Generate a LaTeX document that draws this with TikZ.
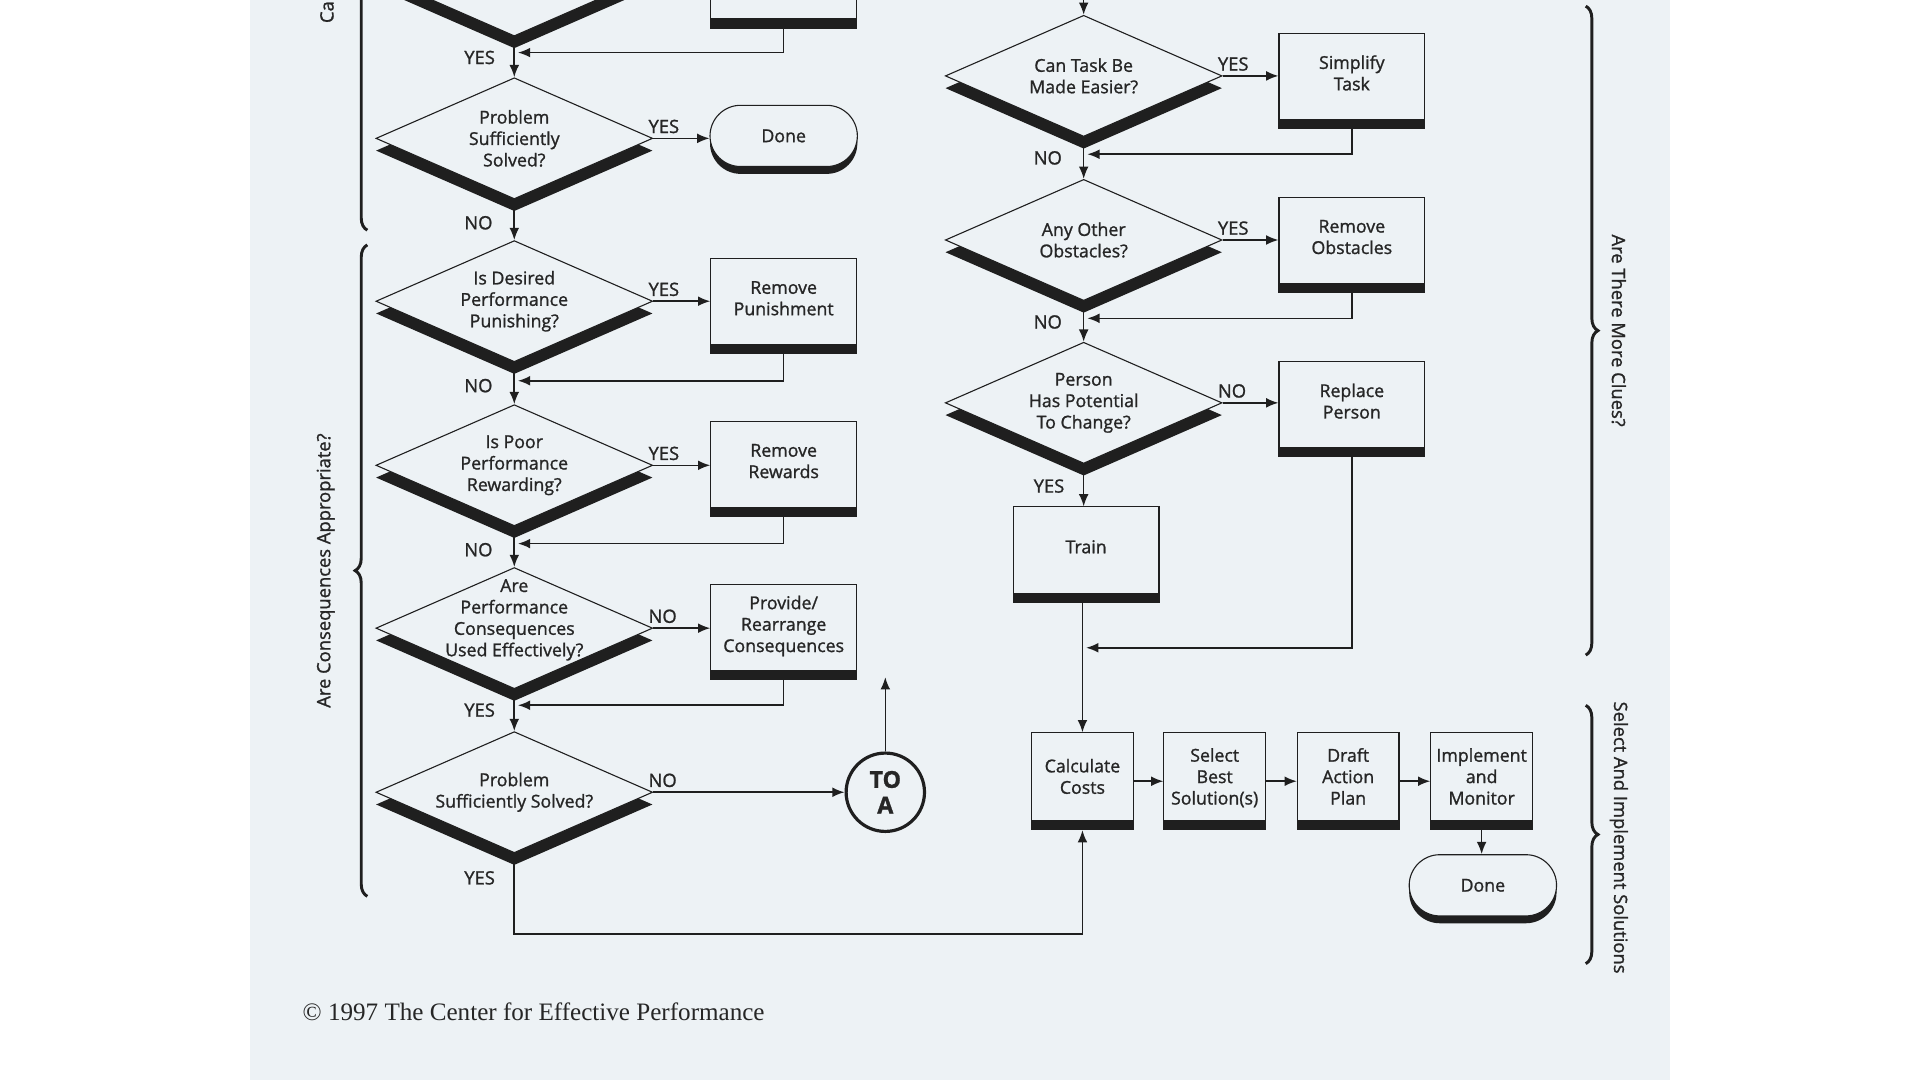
\documentclass[tikz,border=0pt]{standalone}
\usepackage{fontspec}
\setmainfont{Open Sans}[FakeBold=1.2]
\newfontfamily\notefont{Liberation Serif}
\usetikzlibrary{arrows.meta, positioning, calc, shapes.geometric, shapes.misc, shadows, decorations.pathreplacing}
\definecolor{PageTint}{HTML}{EDF2F5}
\definecolor{Ink}{HTML}{1F1F1F}
\definecolor{TextGray}{HTML}{262626}
\tikzset{
  decision/.style={shape=diamond, draw=Ink, line width=0.9pt, fill=PageTint, minimum width=226pt, minimum height=99pt, aspect=2.28, inner sep=-5pt, align=center, text=TextGray, font=\fontsize{14.5}{17.5}\selectfont, drop shadow={shadow xshift=0pt, shadow yshift=-10pt, opacity=1, fill=Ink}},
  task/.style={rectangle, draw=Ink, line width=0.9pt, fill=PageTint, minimum width=119pt, minimum height=78pt, align=center, text depth=13pt, text=TextGray, font=\fontsize{14.5}{17.5}\selectfont, path picture={\fill[Ink] ([yshift=8pt]path picture bounding box.south west) rectangle (path picture bounding box.south east);}},
  stage/.style={task, minimum width=83pt, minimum height=79pt, text depth=8pt},
  terminal/.style={rounded rectangle, draw=Ink, line width=0.9pt, fill=PageTint, minimum width=127pt, minimum height=50pt, text=TextGray, font=\fontsize{14.5}{17.5}\selectfont, drop shadow={shadow xshift=0pt, shadow yshift=-6pt, opacity=1, fill=Ink}},
  connector/.style={circle, draw=Ink, line width=2.6pt, fill=PageTint, minimum size=64pt, inner sep=0pt, align=center, text=TextGray, font=\fontsize{19}{21}\selectfont\bfseries},
  answer/.style={inner sep=0pt, text=TextGray, font=\fontsize{15}{16}\selectfont},
  sidenote/.style={inner sep=0pt, text=TextGray, font=\fontsize{15}{16}\selectfont},
  brace/.style={decorate, decoration={brace, amplitude=10pt}, line width=2.4pt, draw=Ink},
  flow/.style={-{Latex[length=10pt, width=8pt]}, line width=1.3pt, draw=Ink}
}
\begin{document}
\begin{tikzpicture}[x=1pt, y=-1pt]
\useasboundingbox (0,0) rectangle (1568,882);
\clip (0,0) rectangle (1568,882);
\fill[white] (0,0) rectangle (1568,882);
\fill[PageTint] (204,0) rectangle (1364,882);

% consequences column
\node[decision] (d0) at (420,-20) {};
\node[task] (b0) at (640,-16) {};
\node[decision] (d1) at (420,113) {Problem\\Sufficiently\\Solved?};
\node[terminal] (done1) at (640,111) {Done};
\node[decision] (d2) at (420,246) {Is Desired\\Performance\\Punishing?};
\node[task] (b2) at (640,250) {Remove\\Punishment};
\node[decision] (d3) at (420,380) {Is Poor\\Performance\\Rewarding?};
\node[task] (b3) at (640,383) {Remove\\Rewards};
\node[decision, inner sep=-16pt, text depth=17pt] (d4) at (420,513) {Are\\Performance\\Consequences\\Used Effectively?};
\node[task] (b4) at (640,516) {Provide/\\Rearrange\\Consequences};
\node[decision] (d5) at (420,647) {Problem\\Sufficiently Solved?};
\node[connector] (toa) at (723,647) {TO\\A};
\coordinate (toup) at (723,553);

% clues column
\coordinate (rin) at (885,-4);
\node[decision] (r1) at (885,62) {Can Task Be\\Made Easier?};
\node[task] (s1) at (1104,66) {Simplify\\Task};
\node[decision] (r2) at (885,196) {Any Other\\Obstacles?};
\node[task] (s2) at (1104,200) {Remove\\Obstacles};
\node[decision] (r3) at (885,329) {Person\\Has Potential\\To Change?};
\node[task] (s3) at (1104,334) {Replace\\Person};
\node[task] (train) at (887,453) {Train};
\coordinate (join) at (887,529);

% solutions row
\node[stage] (calc) at (884,638) {Calculate\\Costs};
\node[stage] (best) at (992,638) {Select\\Best\\Solution(s)};
\node[stage] (plan) at (1101,638) {Draft\\Action\\Plan};
\node[stage] (impl) at (1210,638) {Implement\\and\\Monitor};
\node[terminal] (done2) at (1211,723) {Done};

% arrows
\draw[flow] (d0.south) -- (d1.north);
\draw[flow] (b0.south) |- ($(d0.south)+(3,13)$);
\draw[flow] (d1.east) -- (d1.east -| done1.west);
\draw[flow] (d1.south) -- (d2.north);
\draw[flow] (d2.east) -- (d2.east -| b2.west);
\draw[flow] (b2.south) |- ($(d2.south)+(3,15)$);
\draw[flow] (d2.south) -- (d3.north);
\draw[flow] (d3.east) -- (d3.east -| b3.west);
\draw[flow] (b3.south) |- ($(d3.south)+(3,14)$);
\draw[flow] (d3.south) -- (d4.north);
\draw[flow] (d4.east) -- (d4.east -| b4.west);
\draw[flow] (b4.south) |- ($(d4.south)+(3,13)$);
\draw[flow] (d4.south) -- (d5.north);
\draw[flow] (d5.east) -- (toa.west);
\draw[flow] (toa.north) -- (toup);
\draw[flow] (d5.south) -- ++(0,66) -| (calc.south);

\draw[flow] (rin) -- (r1.north);
\draw[flow] (r1.east) -- (r1.east -| s1.west);
\draw[flow] (s1.south) |- ($(r1.south)+(3,14)$);
\draw[flow] (r1.south) -- (r2.north);
\draw[flow] (r2.east) -- (r2.east -| s2.west);
\draw[flow] (s2.south) |- ($(r2.south)+(3,14)$);
\draw[flow] (r2.south) -- (r3.north);
\draw[flow] (r3.east) -- (r3.east -| s3.west);
\draw[flow] (s3.south) |- (join);
\draw[flow] (r3.south) -- (r3.south |- train.north);
\draw[flow] (train.south -| calc.north) -- (calc.north);

\draw[flow] (calc.east) -- (best.west);
\draw[flow] (best.east) -- (plan.west);
\draw[flow] (plan.east) -- (impl.west);
\draw[flow] (impl.south) -- (impl.south |- done2.north);

% yes / no
\node[answer, anchor=west] (a0) at ($(d0.south)+(-41,17)$) {YES};
\node[answer, anchor=south west] (a1) at ($(d1.east)+(-4,-4)$) {YES};
\node[answer, anchor=west] (a2) at ($(d1.south)+(-41,19)$) {NO};
\node[answer, anchor=south west] (a3) at ($(d2.east)+(-4,-4)$) {YES};
\node[answer, anchor=west] (a4) at ($(d2.south)+(-41,19)$) {NO};
\node[answer, anchor=south west] (a5) at ($(d3.east)+(-4,-4)$) {YES};
\node[answer, anchor=west] (a6) at ($(d3.south)+(-41,19)$) {NO};
\node[answer, anchor=south west] (a7) at ($(d4.east)+(-4,-4)$) {NO};
\node[answer, anchor=west] (a8) at ($(d4.south)+(-41,17)$) {YES};
\node[answer, anchor=south west] (a9) at ($(d5.east)+(-4,-4)$) {NO};
\node[answer, anchor=west] (a10) at ($(d5.south)+(-41,20)$) {YES};
\node[answer, anchor=south west] (c1) at ($(r1.east)+(-4,-4)$) {YES};
\node[answer, anchor=west] (c2) at ($(r1.south)+(-41,17)$) {NO};
\node[answer, anchor=south west] (c3) at ($(r2.east)+(-4,-4)$) {YES};
\node[answer, anchor=west] (c4) at ($(r2.south)+(-41,17)$) {NO};
\node[answer, anchor=south west] (c5) at ($(r3.east)+(-4,-4)$) {NO};
\node[answer, anchor=west] (c6) at ($(r3.south)+(-41,18)$) {YES};

% braces
\draw[brace] (300,188) -- (300,-370);
\draw[brace] (300,732) -- (300,200);
\draw[brace] (1295,5) -- (1295,535);
\draw[brace] (1295,576) -- (1295,787);
\node[sidenote, rotate=90, anchor=west] (lcut) at (267,19) {Ca};
\node[sidenote, rotate=90] (lconseq) at (266,466) {Are Consequences Appropriate?};
\node[sidenote, rotate=-90] (rclues) at (1322,270) {Are There More Clues?};
\node[sidenote, rotate=-90] (rsolve) at (1322,684) {Select And Implement Solutions};

\node[anchor=west, inner sep=0pt, text=TextGray, font=\notefont\fontsize{20.5}{24}\selectfont] (credit) at (247,826) {\textcopyright{} 1997 The Center for Effective Performance};
\end{tikzpicture}
\end{document}
